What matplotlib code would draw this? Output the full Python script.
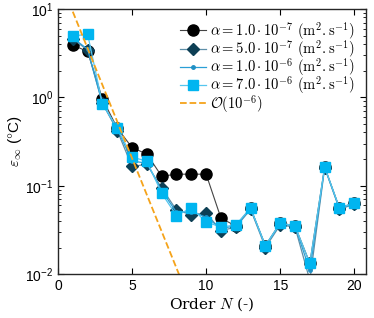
import numpy as np
import matplotlib
matplotlib.use('Agg')
import matplotlib.pyplot as plt

plt.rcParams['mathtext.fontset'] = 'cm'
plt.rcParams['font.family'] = ['Liberation Sans', 'DejaVu Sans']

N = np.arange(1, 21)

# erreur max pour chaque diffusivite
eps_a1 = [3.9, 3.3, 0.96, 0.45, 0.27, 0.228, 0.128, 0.135, 0.135, 0.135,
          0.043, 0.035, 0.056, 0.021, 0.038, 0.035, 0.0133, 0.163, 0.056, 0.064]
eps_a2 = [4.6, 3.4, 0.86, 0.42, 0.165, 0.175, 0.094, 0.053, 0.047, 0.049,
          0.031, 0.034, 0.054, 0.020, 0.036, 0.034, 0.0085, 0.160, 0.054, 0.062]
eps_a3 = [4.7, 3.5, 0.85, 0.44, 0.19, 0.18, 0.088, 0.05, 0.051, 0.044,
          0.033, 0.035, 0.055, 0.021, 0.037, 0.035, 0.011, 0.162, 0.055, 0.063]
eps_a4 = [4.9, 5.2, 0.84, 0.45, 0.21, 0.19, 0.082, 0.046, 0.056, 0.039,
          0.034, 0.036, 0.056, 0.021, 0.038, 0.035, 0.0133, 0.163, 0.056, 0.064]

N_ref = [1, 9]
eps_ref = [9.3, 0.0045]

labels = [r'$\alpha = 1.0\cdot10^{-7}\ (\mathrm{m}^2\mathrm{.s}^{-1})$',
          r'$\alpha = 5.0\cdot10^{-7}\ (\mathrm{m}^2\mathrm{.s}^{-1})$',
          r'$\alpha = 1.0\cdot10^{-6}\ (\mathrm{m}^2\mathrm{.s}^{-1})$',
          r'$\alpha = 7.0\cdot10^{-6}\ (\mathrm{m}^2\mathrm{.s}^{-1})$',
          r'$\mathcal{O}(10^{-6})$']

fig = plt.figure(figsize=(3.74, 3.18), dpi=100)
ax = fig.add_axes([0.155, 0.138, 0.824, 0.834])

ax.plot(N, eps_a1, '-o', color='#444444', mfc='black', mec='black', ms=8, lw=0.8, label=labels[0])
ax.plot(N, eps_a2, '-D', color='#5d8fa8', mfc='#0d3f55', mec='#0d3f55', ms=6.5, lw=0.9, label=labels[1])
ax.plot(N, eps_a3, '-o', color='#2a9fd6', mfc='#1f8fc4', mec='#1f8fc4', ms=2.5, lw=0.9, label=labels[2])
ax.plot(N, eps_a4, '-s', color='#55c6ef', mfc='#00b5f0', mec='#00b5f0', ms=7, lw=0.9, label=labels[3])
ax.plot(N_ref, eps_ref, '--', color='#f5a31a', lw=1.3, label=labels[4])

ax.set_yscale('log')
ax.set_xlim(0, 20.8)
ax.set_ylim(1e-2, 1e1)
ax.set_xticks([0, 5, 10, 15, 20])
ax.tick_params(which='both', direction='in', top=True, right=True, labelsize=10)
ax.tick_params(which='major', length=4)
ax.tick_params(which='minor', length=2)
for s in ax.spines.values():
    s.set_linewidth(1.0)
    s.set_color('#262626')

ax.set_xlabel(r'Order $N$ (-)', fontsize=11, labelpad=2)
ax.set_ylabel(r'$\varepsilon_\infty$ ($\degree$C)', fontsize=11, labelpad=1)
ax.xaxis.label.set_fontfamily('DejaVu Serif')

leg = ax.legend(loc='upper right', fontsize=10.5, frameon=False, handlelength=1.8,
                handletextpad=0.3, labelspacing=-0.25, borderaxespad=0.25,
                borderpad=0.5)

plt.savefig('out.png', dpi=100)
